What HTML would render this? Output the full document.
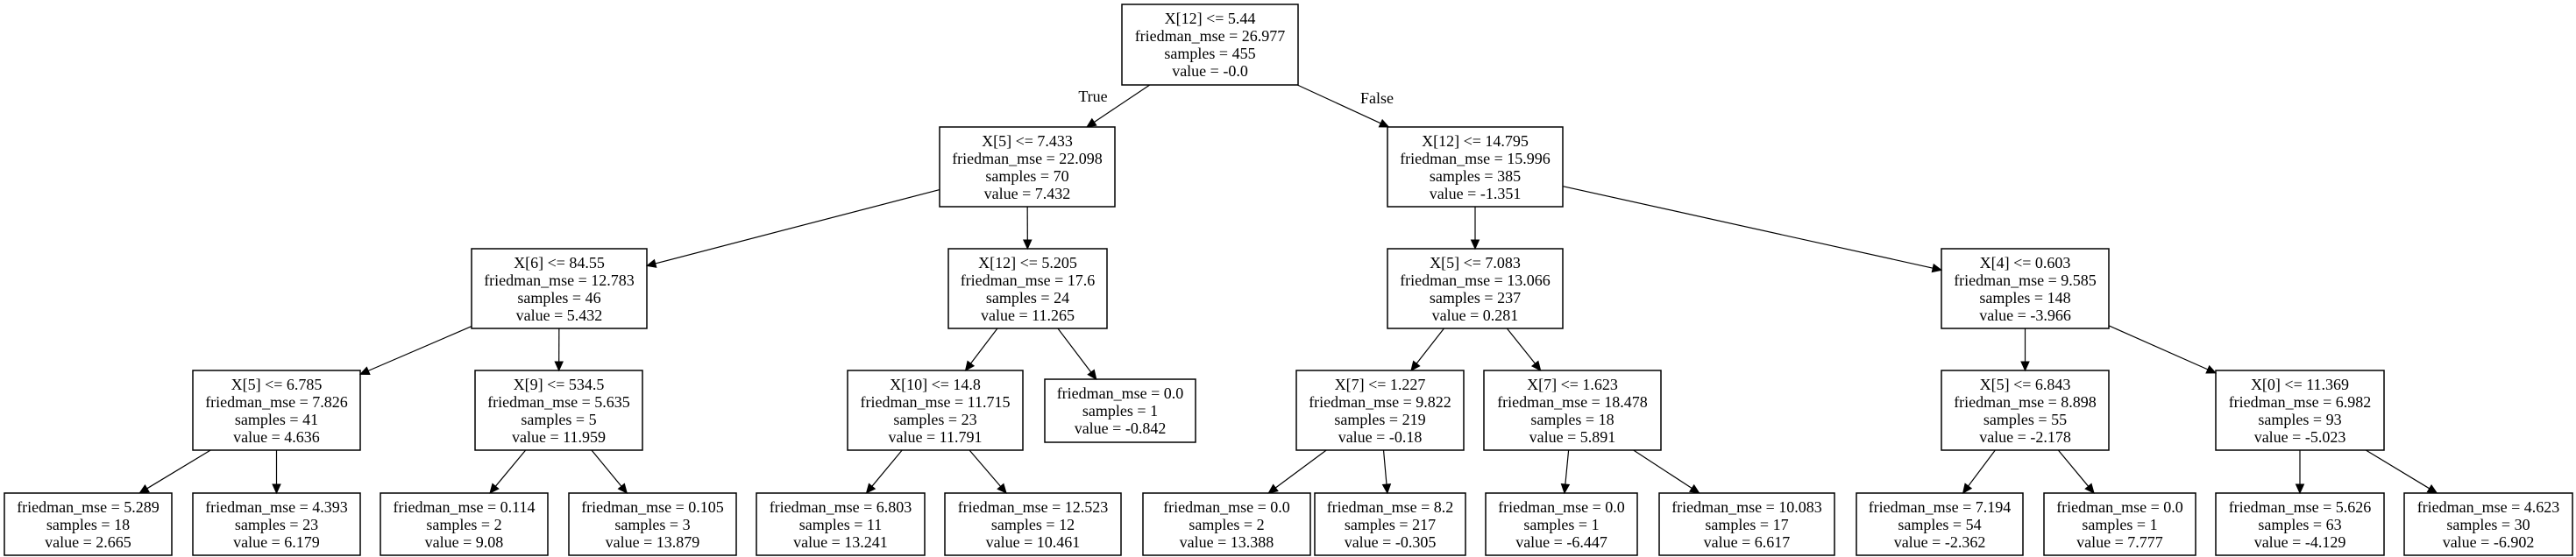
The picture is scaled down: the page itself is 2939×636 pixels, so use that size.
<!DOCTYPE html>
<html><head><meta charset="utf-8"><style>
html,body{margin:0;padding:0;background:#fff;}
svg{display:block;}
text{font-family:"Liberation Serif",serif;font-size:18px;fill:#000;}
</style></head><body>
<svg id="s" width="2939" height="636" xmlns="http://www.w3.org/2000/svg"></svg>
<script>
const N={
r:[1280,5,1481,97,["X[12] <= 5.44","friedman_mse = 26.977","samples = 455","value = -0.0"]],
a:[1072,145,1272,236,["X[5] <= 7.433","friedman_mse = 22.098","samples = 70","value = 7.432"]],
b:[1583,145,1783,236,["X[12] <= 14.795","friedman_mse = 15.996","samples = 385","value = -1.351"]],
a1:[538,284,738,375,["X[6] <= 84.55","friedman_mse = 12.783","samples = 46","value = 5.432"]],
a2:[1082,284,1263,375,["X[12] <= 5.205","friedman_mse = 17.6","samples = 24","value = 11.265"]],
b1:[1583,284,1783,375,["X[5] <= 7.083","friedman_mse = 13.066","samples = 237","value = 0.281"]],
b2:[2215,284,2406,375,["X[4] <= 0.603","friedman_mse = 9.585","samples = 148","value = -3.966"]],
c1:[220,423,411,514,["X[5] <= 6.785","friedman_mse = 7.826","samples = 41","value = 4.636"]],
c2:[542,423,733,514,["X[9] <= 534.5","friedman_mse = 5.635","samples = 5","value = 11.959"]],
c3:[967,423,1167,514,["X[10] <= 14.8","friedman_mse = 11.715","samples = 23","value = 11.791"]],
c4:[1192,433,1364,505,["friedman_mse = 0.0","samples = 1","value = -0.842"]],
c5:[1479,423,1670,514,["X[7] <= 1.227","friedman_mse = 9.822","samples = 219","value = -0.18"]],
c6:[1693,423,1895,514,["X[7] <= 1.623","friedman_mse = 18.478","samples = 18","value = 5.891"]],
c7:[2215,423,2406,514,["X[5] <= 6.843","friedman_mse = 8.898","samples = 55","value = -2.178"]],
c8:[2528,423,2720,514,["X[0] <= 11.369","friedman_mse = 6.982","samples = 93","value = -5.023"]],
d1:[5,563,196,634,["friedman_mse = 5.289","samples = 18","value = 2.665"]],
d2:[220,563,411,634,["friedman_mse = 4.393","samples = 23","value = 6.179"]],
d3:[434,563,625,634,["friedman_mse = 0.114","samples = 2","value = 9.08"]],
d4:[649,563,840,634,["friedman_mse = 0.105","samples = 3","value = 13.879"]],
d5:[863,563,1055,634,["friedman_mse = 6.803","samples = 11","value = 13.241"]],
d6:[1078,563,1279,634,["friedman_mse = 12.523","samples = 12","value = 10.461"]],
d7:[1304,563,1495,634,["friedman_mse = 0.0","samples = 2","value = 13.388"]],
d8:[1500,563,1672,634,["friedman_mse = 8.2","samples = 217","value = -0.305"]],
d9:[1695,563,1868,634,["friedman_mse = 0.0","samples = 1","value = -6.447"]],
d10:[1893,563,2093,634,["friedman_mse = 10.083","samples = 17","value = 6.617"]],
d11:[2118,563,2308,634,["friedman_mse = 7.194","samples = 54","value = -2.362"]],
d12:[2332,563,2505,634,["friedman_mse = 0.0","samples = 1","value = 7.777"]],
d13:[2528,563,2720,634,["friedman_mse = 5.626","samples = 63","value = -4.129"]],
d14:[2743,563,2935,634,["friedman_mse = 4.623","samples = 30","value = -6.902"]]
};
const E=[["r","a"],["r","b"],["a","a1"],["a","a2"],["b","b1"],["b","b2"],["a1","c1"],["a1","c2"],["a2","c3"],["a2","c4"],["b1","c5"],["b1","c6"],["b2","c7"],["b2","c8"],["c1","d1"],["c1","d2"],["c2","d3"],["c2","d4"],["c3","d5"],["c3","d6"],["c5","d7"],["c5","d8"],["c6","d9"],["c6","d10"],["c7","d11"],["c7","d12"],["c8","d13"],["c8","d14"]];
let h='';
function clip(b,px,py,dx,dy){const cx=(b[0]+b[2])/2,cy=(b[1]+b[3])/2,hw=(b[2]-b[0])/2,hh=(b[3]-b[1])/2;let t=Infinity;if(dx)t=Math.min(t,hw/Math.abs(dx));if(dy)t=Math.min(t,hh/Math.abs(dy));return [cx+dx*t,cy+dy*t];}
for(const [p,c] of E){const P=N[p],C=N[c];const pcx=(P[0]+P[2])/2,pcy=(P[1]+P[3])/2,ccx=(C[0]+C[2])/2,ccy=(C[1]+C[3])/2;let dx=ccx-pcx,dy=ccy-pcy;const L=Math.hypot(dx,dy);dx/=L;dy/=L;
const s=clip(P,0,0,dx,dy);const e=clip(C,0,0,-dx,-dy);
const bx=e[0]-dx*10,by=e[1]-dy*10;const nx=-dy,ny=dx;
h+=`<line x1="${s[0]}" y1="${s[1]}" x2="${bx}" y2="${by}" stroke="#000" stroke-width="1.2"/>`;
h+=`<polygon points="${e[0]},${e[1]} ${bx+nx*4.5},${by+ny*4.5} ${bx-nx*4.5},${by-ny*4.5}" fill="#000" stroke="#000"/>`;}
for(const k in N){const b=N[k];h+=`<rect x="${b[0]}" y="${b[1]}" width="${b[2]-b[0]}" height="${b[3]-b[1]}" fill="none" stroke="#000" stroke-width="1.5"/>`;const cx=(b[0]+b[2])/2;b[4].forEach((t,i)=>{h+=`<text x="${cx}" y="${b[1]+22+i*20}" text-anchor="middle">${t.replace(/</g,'&lt;')}</text>`;});}
h+=`<text x="1247" y="116" text-anchor="middle">True</text><text x="1571" y="118" text-anchor="middle">False</text>`;
document.getElementById('s').innerHTML=h;
</script>
</body></html>
